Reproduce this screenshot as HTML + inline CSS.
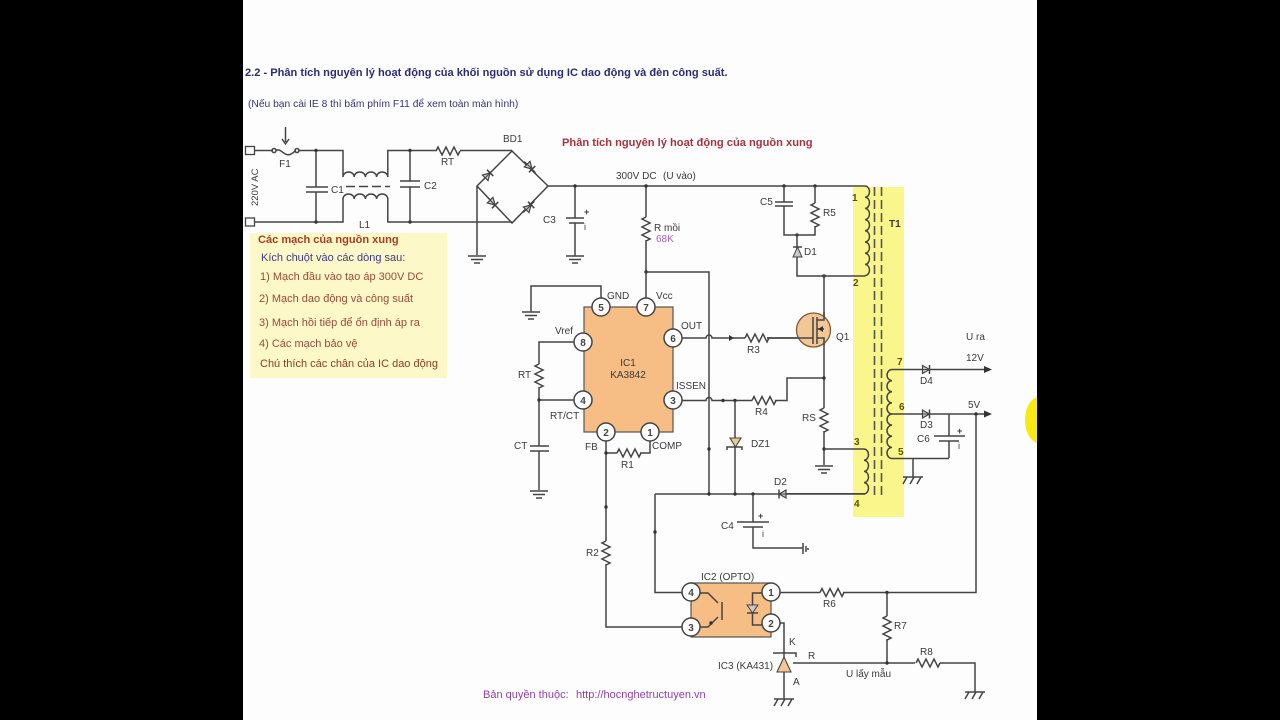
<!DOCTYPE html>
<html><head><meta charset="utf-8">
<style>
html,body{margin:0;padding:0;background:#000;width:1280px;height:720px;overflow:hidden}
svg{display:block;filter:blur(0.35px)}
text{font-family:"Liberation Sans",sans-serif;font-size:10px;fill:#3a3a3a}
.b{font-weight:bold}
.w{fill:none;stroke:#444;stroke-width:1.5}
.p{fill:#fff;stroke:#444;stroke-width:1.5}
.n{font-weight:bold;font-size:10px;text-anchor:middle;fill:#444}
.y{font-weight:bold;fill:#5a5200}
.m{font-size:11px;fill:#9a4a3a}
</style></head><body>
<svg width="1280" height="720" viewBox="0 0 1280 720" xmlns="http://www.w3.org/2000/svg">
<defs>
<path id="rh" class="w" d="M0 0l2-4 4 8 4-8 4 8 4-8 4 8 2-4"/>
<path id="rv" class="w" d="M0 0l-4 2 8 4-8 4 8 4-8 4 8 4-4 2"/>
<g id="gnd"><path class="w" d="M-9 0H9M-6 3.500H6M-3 7H3"/></g>
<g id="hatch"><path class="w" d="M-10 0H10M-10 7l4-7M-3 7l4-7M4 7l4-7"/></g>
<circle id="dot" r="1.700" fill="#333"/>
<g id="di"><path d="M-4 -4V4L3 0Z" fill="#c9c9c9" stroke="#444" stroke-width="1.200"/><path d="M3 -4.500V4.500" stroke="#444" stroke-width="1.500"/><path d="M-8 0H8" stroke="#444" stroke-width="1"/></g>
</defs>
<rect x="243" y="0" width="794" height="720" fill="#fdfdfd"/>
<ellipse cx="1039" cy="420" rx="14" ry="23" fill="#f7ea12"/>
<rect x="1037" y="0" width="243" height="720" fill="#000"/>

<text x="245" y="76" class="b" style="font-size:11.080px;fill:#2c2a78">2.2 - Phân tích nguyên lý hoạt động của khối nguồn sử dụng IC dao động và đèn công suất.</text>
<text x="248" y="107" style="font-size:10.270px;fill:#33337a">(Nếu bạn cài IE 8 thì bấm phím F11 để xem toàn màn hình)</text>
<text x="562" y="146" class="b" style="font-size:11.120px;fill:#a8323c">Phân tích nguyên lý hoạt động của nguồn xung</text>

<rect x="250" y="233" width="197" height="145" fill="#fcf8c8"/>
<rect x="853" y="187" width="51" height="330" fill="#fbf68c"/>
<text x="258" y="243" class="b" style="font-size:11.050px;fill:#a83c24">Các mạch của nguồn xung</text>
<text x="261" y="261" style="font-size:11px;fill:#3a3a8c">Kích chuột vào các dòng sau:</text>
<text x="260" y="280" class="m">1) Mạch đầu vào tạo áp 300V DC</text>
<text x="259" y="302" class="m">2) Mạch dao động và công suất</text>
<text x="259" y="326" class="m">3) Mạch hồi tiếp để ổn định áp ra</text>
<text x="259" y="347" class="m">4) Các mạch bảo vệ</text>
<text x="260" y="367" class="m" style="fill:#8a4020">Chú thích các chân của IC dao động</text>

<!-- input section -->
<rect x="245.500" y="146.500" width="9" height="8" fill="#fff" stroke="#444" stroke-width="1.300"/>
<rect x="245.500" y="218" width="9" height="8" fill="#fff" stroke="#444" stroke-width="1.300"/>
<path class="w" d="M255 150.500H273M298 150.500H343V177a5.600 5 0 0 1 11.200 0a5.600 5 0 0 1 11.200 0a5.600 5 0 0 1 11.200 0a5.600 5 0 0 1 11.200 0V150.500H436M460 150.500H512"/>
<path class="w" d="M276 150.500c5-3 8 6 14 4 3-1 4-3 6-4"/>
<circle cx="274" cy="150.500" r="2" class="w"/><circle cx="297" cy="150.500" r="2" class="w"/>
<path class="w" d="M285.500 127V142M282 139l3.500 5 3.500-5"/>
<path class="w" d="M255 222H343V199a5.600 5 0 0 1 11.200 0a5.600 5 0 0 1 11.200 0a5.600 5 0 0 1 11.200 0a5.600 5 0 0 1 11.200 0V222H512"/>
<path class="w" stroke-dasharray="9 4" d="M346 186.500H390"/>
<use href="#dot" x="316" y="150.500"/><use href="#dot" x="316" y="222"/><use href="#dot" x="410" y="150.500"/><use href="#dot" x="410" y="222"/>
<path class="w" d="M316 150.500V187M306 187H328M306 192H328M316 192V222M410 150.500V181M400 181H420M400 187H420M410 187V222"/>
<use href="#rh" x="436" y="151"/>
<path class="w" d="M512 151L548 186L512 223L477 186ZM477 186V255"/>
<use href="#di" transform="translate(530 167) rotate(45)"/>
<use href="#di" transform="translate(488 175) rotate(-45)"/>
<use href="#di" transform="translate(493 203) rotate(45)"/>
<use href="#di" transform="translate(529 207) rotate(-45)"/>
<use href="#gnd" x="477" y="256"/>
<path class="w" d="M548 186H865M575 186V218M566 218H584M569 223H584M575 223V256"/>
<use href="#dot" x="575" y="186"/><use href="#gnd" x="575" y="256"/>
<text x="584" y="215" class="b" style="font-size:9px">+</text>
<text x="584" y="230" style="font-size:9px">i</text>
<text x="285" y="167" text-anchor="middle">F1</text>
<text x="258" y="206" transform="rotate(-90 258 206)" style="font-size:9.500px">220V AC</text>
<text x="331" y="193">C1</text><text x="424" y="189">C2</text><text x="441" y="165">RT</text>
<text x="503" y="142">BD1</text><text x="359" y="228">L1</text><text x="543" y="223">C3</text>

<text x="616" y="179">300V DC</text><text x="663" y="179">(U vào)</text>
<path class="w" d="M646 186V217M646 240V272H709V495"/>
<use href="#rv" x="646" y="217"/><use href="#dot" x="646" y="186"/><use href="#dot" x="646" y="272"/>
<text x="654" y="231">R mồi</text><text x="656" y="242" style="fill:#a860b0">68K</text>

<!-- IC1 -->
<rect x="584" y="307" width="89" height="125" fill="#f6bd85" stroke="#555" stroke-width="1.200"/>
<path class="w" d="M601 298V286H531V312M646 272V298"/>
<use href="#gnd" x="531" y="312"/>
<path class="w" d="M575 342H539V364M539 387V446M539 451V490M575 400H539M530 446H549M530 451H549"/>
<use href="#rv" x="539" y="364"/><use href="#dot" x="539" y="400"/><use href="#gnd" x="539" y="491"/>
<g class="p"><circle cx="601" cy="307" r="9"/><circle cx="646" cy="307" r="9"/><circle cx="583" cy="342" r="9"/><circle cx="583" cy="400" r="9"/><circle cx="673" cy="338" r="9"/><circle cx="673" cy="400" r="9"/><circle cx="606" cy="432" r="9"/><circle cx="650" cy="432" r="9"/></g>
<text x="601" y="311" class="n">5</text><text x="646" y="311" class="n">7</text><text x="583" y="346" class="n">8</text><text x="583" y="404" class="n">4</text><text x="673" y="342" class="n">6</text><text x="673" y="404" class="n">3</text><text x="606" y="436" class="n">2</text><text x="650" y="436" class="n">1</text>
<text x="628" y="366" text-anchor="middle" style="font-size:10px">IC1</text><text x="628" y="378" text-anchor="middle" style="font-size:10px">KA3842</text>
<text x="607" y="299">GND</text><text x="656" y="299">Vcc</text><text x="555" y="334">Vref</text><text x="681" y="329">OUT</text><text x="676" y="389">ISSEN</text><text x="550" y="419">RT/CT</text><text x="514" y="449">CT</text><text x="518" y="378">RT</text><text x="585" y="450">FB</text><text x="652" y="449">COMP</text>
<path class="w" d="M682 338H706a3 3 0 0 1 6 0H745M767 338H797"/>
<path d="M729 335l5 3-5 3z" fill="#333"/>
<use href="#rh" x="745" y="338"/>
<text x="747" y="353">R3</text>
<path class="w" d="M682 400.500H706a3 3 0 0 1 6 0H752M775 400.500H787V378H824"/>
<use href="#rh" x="752" y="400.500"/><use href="#dot" x="723" y="400.500"/><use href="#dot" x="735" y="400.500"/>
<text x="755" y="415">R4</text>
<path class="w" d="M606 441V541M606 564V627H682M606 453H617M640 453H650V441"/>
<use href="#rh" x="617" y="453"/><use href="#dot" x="606" y="453"/><use href="#dot" x="606" y="507"/>
<use href="#rv" x="606" y="541"/>
<text x="621" y="468">R1</text><text x="586" y="556">R2</text>
<!-- DZ1 -->
<path class="w" d="M735 400.500V494M727 450V447H742V450"/>
<path d="M730 438H741L735.500 447Z" fill="#f3c795" stroke="#444" stroke-width="1.100"/>
<text x="751" y="447">DZ1</text>
<use href="#dot" x="709" y="449"/>
<!-- Q1 -->
<path class="w" d="M824 276V408M824 431V465"/>
<circle cx="813.500" cy="330" r="17" fill="#f3c795" stroke="#7a5a3a" stroke-width="1.300"/>
<path class="w" d="M767 338H813M813 317V344M817 317V344M817 320H824V312M817 338H824V345M817 329H824"/>
<path d="M818 329l5-3v6z" fill="#333"/>
<use href="#dot" x="824" y="276"/><use href="#dot" x="824" y="378"/><use href="#dot" x="824" y="449"/>
<use href="#rv" x="824" y="408"/><use href="#gnd" x="824" y="466"/>
<text x="802" y="421">RS</text><text x="836" y="340">Q1</text>
<!-- snubber -->
<use href="#dot" x="784" y="186"/><use href="#dot" x="815" y="186"/><use href="#dot" x="797" y="235"/>
<path class="w" d="M784 186V202M775 202H793M775 206H793M784 206V235H815V226M815 186V203M797 235V276H865"/>
<use href="#rv" x="815" y="203"/>
<path d="M793 257H802L797.500 247Z" fill="#c9c9c9" stroke="#444"/><path class="w" d="M793 247H802"/>
<text x="760" y="205">C5</text><text x="823" y="216">R5</text><text x="804" y="255">D1</text>
<!-- Transformer -->
<path class="w" d="M865 186a4.500 5.600 0 0 1 0 11.200a4.500 5.600 0 0 1 0 11.200a4.500 5.600 0 0 1 0 11.200a4.500 5.600 0 0 1 0 11.200a4.500 5.600 0 0 1 0 11.200a4.500 5.600 0 0 1 0 11.200a4.500 5.600 0 0 1 0 11.200a4.500 5.600 0 0 1 0 11.200"/>
<path stroke="#555" stroke-width="1.600" stroke-dasharray="9 4" fill="none" d="M874.500 187V497M881.500 187V497"/>
<text x="852" y="201" class="y">1</text><text x="853" y="286" class="y">2</text><text x="889" y="227" class="b">T1</text>
<path class="w" d="M824 449H864a4.500 5.600 0 0 1 0 11.200a4.500 5.600 0 0 1 0 11.200a4.500 5.600 0 0 1 0 11.200a4.500 5.600 0 0 1 0 11.200H785"/>
<text x="854" y="445" class="y">3</text><text x="854" y="507" class="y">4</text>
<path class="w" d="M897 369.500H892a5 5.560 0 0 0 0 11.120a5 5.560 0 0 0 0 11.120a5 5.560 0 0 0 0 11.120a5 5.560 0 0 0 0 11.120a5 5.560 0 0 0 0 11.120a5 5.560 0 0 0 0 11.120a5 5.560 0 0 0 0 11.120a5 5.560 0 0 0 0 11.120H949"/>
<text x="897" y="365" class="y">7</text><text x="899" y="410" class="y">6</text><text x="898" y="455" class="y">5</text>
<path class="w" d="M897 369.500H985M892 414H985M949 458V441M949 436V414M934 436H965M939 441H959M913 458V477"/>
<use href="#di" transform="translate(926.500 369.500)"/>
<use href="#di" transform="translate(926.500 414)"/>
<path d="M984 366l8 3.500-8 3.500zM984 410.500l8 3.500-8 3.500z" fill="#333"/>
<use href="#hatch" x="913" y="477"/>
<use href="#dot" x="976" y="414"/>
<text x="966" y="340">U ra</text><text x="966" y="361">12V</text><text x="968" y="408">5V</text>
<text x="920" y="384">D4</text><text x="920" y="428">D3</text><text x="917" y="442">C6</text>
<text x="957" y="434" class="b" style="font-size:9px">+</text><text x="958" y="449" style="font-size:9px">i</text>
<!-- D2 line -->
<path class="w" d="M655 494H865M655 494V582"/>
<use href="#di" transform="translate(782 494) rotate(180)"/>
<use href="#dot" x="709" y="494"/><use href="#dot" x="735" y="494"/><use href="#dot" x="753" y="494"/><use href="#dot" x="655" y="532"/>
<text x="774" y="485">D2</text>
<path class="w" d="M753 494V522M737 522H769M743 527H763M753 527V548H803M803 543V554M806 546V552M808 548V550"/>
<text x="758" y="519" class="b" style="font-size:9px">+</text><text x="762" y="537" style="font-size:9px">i</text><text x="721" y="529">C4</text>
<!-- IC2 -->
<path class="w" d="M655 582V592.500H682"/>
<rect x="691" y="583" width="80" height="54" fill="#f6bd85" stroke="#555" stroke-width="1.200"/>
<path class="w" d="M700 593H708L718 603M722 602V620M718 617L708 627H700M762 593H752.500V625H762"/>
<path d="M747 605H758L752.500 613Z" fill="#c9c9c9" stroke="#444"/><path class="w" d="M747 613H758"/>
<use href="#dot" x="711" y="623"/>
<g class="p"><circle cx="691" cy="592" r="9"/><circle cx="691" cy="627" r="9"/><circle cx="771" cy="592" r="9"/><circle cx="771" cy="623" r="9"/></g>
<text x="691" y="596" class="n">4</text><text x="691" y="631" class="n">3</text><text x="771" y="596" class="n">1</text><text x="771" y="627" class="n">2</text>
<text x="701" y="580">IC2 (OPTO)</text>
<path class="w" d="M780 592.500H820M843 592.500H976V414"/>
<use href="#rh" x="820" y="592.500"/><use href="#dot" x="887" y="592.500"/>
<text x="823" y="607">R6</text>
<path class="w" d="M887 592.500V616M887 639V663M793 663H915M940 663H975V692M780 623H784V657M784 672V699"/>
<use href="#rv" x="887" y="616"/><use href="#rh" x="916" y="663"/><use href="#dot" x="887" y="663"/>
<path d="M784 657L777 672H791Z" fill="#f3c795" stroke="#444" stroke-width="1.100"/>
<path class="w" d="M773 653H796V657"/>
<use href="#hatch" x="975" y="692"/><use href="#hatch" x="784" y="699"/>
<text x="789" y="645">K</text><text x="808" y="659">R</text><text x="793" y="685">A</text><text x="718" y="669">IC3 (KA431)</text>
<text x="846" y="677">U lấy mẫu</text><text x="894" y="629">R7</text><text x="920" y="655">R8</text>
<text x="483" y="698" style="font-size:11px;fill:#9040a8">Bản quyền thuộc:  <tspan x="576">http://hocnghetructuyen.vn</tspan></text>
</svg>
</body></html>
